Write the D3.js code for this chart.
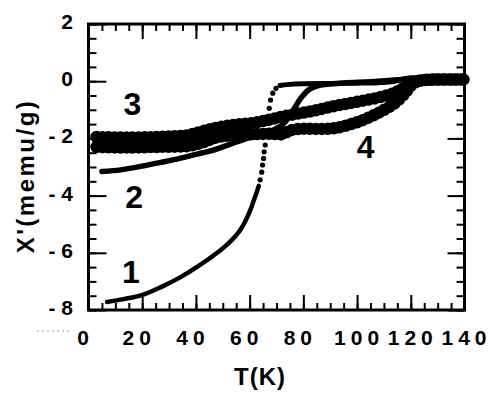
<!DOCTYPE html>
<html>
<head>
<meta charset="utf-8">
<script src="https://cdn.jsdelivr.net/npm/d3@7/dist/d3.min.js"></script>
<style>
  body { margin: 0; background: #fff; }
  svg { display: block; font-family: "Liberation Sans", Arial, Helvetica, sans-serif; font-weight: bold; }
</style>
</head>
<body>
<div id="chart"></div>
<script>
// --- DATOS ---
const tempTicks = [0, 20, 40, 60, 80, 100, 120, 140];
const chiTicks = [2, 0, -2, -4, -6, -8];

// curva 1: rama baja, salto (puntos sueltos) y rama alta
const curve1Low = [[6.9, -7.72], [13, -7.62], [19.9, -7.48], [27, -7.2], [34.1, -6.86], [40, -6.52],
  [45, -6.2], [49, -5.92], [52, -5.68], [54.5, -5.44], [56.5, -5.2], [58.2, -4.93], [59.6, -4.65],
  [60.8, -4.37], [61.8, -4.1], [62.7, -3.86], [63.4, -3.66]];
const curve1Jump = [[63.9, -3.45], [64.5, -3.18], [64.8, -2.93], [65.2, -2.7], [65.4, -2.47], [65.8, -2.23],
  [67.3, -0.95], [67.8, -0.66], [68.6, -0.42], [69.8, -0.25]];
const curve1High = [[71.3, -0.15], [74, -0.12], [80, -0.09], [90, -0.08], [100, -0.07], [108, -0.05],
  [114, 0.0], [118, 0.08], [122, 0.12], [130, 0.1], [136, 0.13], [140, 0.06]];

const curve2 = [[5, -3.16], [12, -3.1], [20, -2.97], [27, -2.84], [34, -2.7], [40, -2.56], [46.5, -2.41],
  [52.8, -2.2], [59, -2.0], [64, -1.85], [69, -1.7], [73, -1.45], [76, -1.05], [79, -0.6], [82, -0.3],
  [86, -0.14], [90, -0.1], [95, -0.06], [105, -0.02], [115, 0.05], [120, 0.1], [130, 0.08], [140, 0.08]];

const curve3 = [[3, -1.95], [15, -1.97], [25, -1.95], [36, -1.9], [42, -1.76], [48, -1.62], [55, -1.52],
  [62, -1.45], [68, -1.33], [73, -1.22], [77, -1.15], [84, -1.03], [90, -0.9], [100, -0.72], [108, -0.57],
  [114, -0.4], [118, -0.2], [121, -0.05], [125, 0.04], [132, 0.06], [140, 0.06]];

const curve4 = [[3, -2.3], [15, -2.32], [25, -2.3], [36, -2.28], [42, -2.16], [48, -1.96], [55, -1.88],
  [62, -1.85], [68, -1.84], [72, -1.86], [75, -1.72], [80, -1.66], [86, -1.67], [91, -1.65], [96, -1.55],
  [101, -1.4], [106, -1.2], [111, -0.95], [115, -0.7], [118, -0.4], [121, -0.08], [125, 0.04],
  [130, 0.06], [140, 0.06]];

const curveNames = ["1", "2", "3", "4"];
const labelT = [15.8, 17, 16.3, 103.2];
const labelChi = [-7.06, -4.43, -1.18, -2.69];

// --- CONFIGURACIÓN ---
const W = 491, H = 400;
const plot = { left: 88.5, right: 464.5, top: 24, bottom: 310 };

const svg = d3.select("#chart").append("svg")
  .attr("width", W)
  .attr("height", H);

const x = d3.scaleLinear().domain([0, 140]).range([plot.left, plot.right]);
const y = d3.scaleLinear().domain([2, -8]).range([plot.top, plot.bottom]);

const minorT = d3.range(0, 141, 5);
const minorChi = d3.range(2, -8.01, -0.5);

// ticks hacia dentro en los cuatro lados
function ticks(axis, transform) {
  const g = svg.append("g").attr("transform", transform).call(axis);
  g.select(".domain").remove();
  g.selectAll("line").attr("stroke", "#000").attr("stroke-width", 2);
  g.selectAll("text").remove();
}
ticks(d3.axisTop(x).tickValues(minorT).tickSize(7), `translate(0,${plot.bottom})`);
ticks(d3.axisTop(x).tickValues(tempTicks).tickSize(15), `translate(0,${plot.bottom})`);
ticks(d3.axisBottom(x).tickValues(minorT).tickSize(7), `translate(0,${plot.top})`);
ticks(d3.axisBottom(x).tickValues(tempTicks).tickSize(15), `translate(0,${plot.top})`);
ticks(d3.axisRight(y).tickValues(minorChi).tickSize(8), `translate(${plot.left},0)`);
ticks(d3.axisRight(y).tickValues(chiTicks).tickSize(18), `translate(${plot.left},0)`);
ticks(d3.axisLeft(y).tickValues(minorChi).tickSize(8), `translate(${plot.right},0)`);
ticks(d3.axisLeft(y).tickValues(chiTicks).tickSize(17), `translate(${plot.right},0)`);

// marco
svg.append("rect")
  .attr("x", plot.left).attr("y", plot.top)
  .attr("width", plot.right - plot.left).attr("height", plot.bottom - plot.top)
  .attr("fill", "none").attr("stroke", "#000").attr("stroke-width", 3);

// etiquetas de ejes
svg.selectAll(".xlab").data(tempTicks).join("text")
  .attr("class", "xlab")
  .attr("x", d => x(d) + (String(d).length === 3 ? 2 : -3))
  .attr("y", 345)
  .attr("text-anchor", "middle")
  .style("font-size", "21px")
  .style("letter-spacing", "5px")
  .text(d => d);

svg.selectAll(".ylab").data(chiTicks).join("text")
  .attr("class", "ylab")
  .attr("x", 73)
  .attr("y", d => y(d) + 5)
  .attr("text-anchor", "end")
  .style("font-size", "21px")
  .text(d => d < 0 ? "- " + (-d) : d);

svg.append("text")
  .attr("x", 260).attr("y", 385)
  .attr("text-anchor", "middle")
  .style("font-size", "24px")
  .style("letter-spacing", "1px")
  .text("T(K)");

svg.append("text")
  .attr("transform", "translate(34,176) rotate(-90)")
  .attr("text-anchor", "middle")
  .style("font-size", "24px")
  .style("letter-spacing", "2.5px")
  .text("X'(memu/g)");

// línea fina punteada (marca del original, abajo a la izquierda)
svg.append("line")
  .attr("x1", 37).attr("x2", 72).attr("y1", 331).attr("y2", 331)
  .attr("stroke", "#999").attr("stroke-width", 1).attr("stroke-dasharray", "2,3");

// --- CURVAS ---
const line = d3.line()
  .x(d => x(d[0]))
  .y(d => y(d[1]))
  .curve(d3.curveMonotoneX);

function solid(data, w) {
  svg.append("path").datum(data)
    .attr("fill", "none").attr("stroke", "#000")
    .attr("stroke-width", w).attr("stroke-linecap", "round").attr("stroke-linejoin", "round")
    .attr("d", line);
}

// bandas gruesas de puntos: trazo sólido + puntos redondos en el borde
function band(data, w) {
  solid(data, w);
  svg.append("path").datum(data)
    .attr("fill", "none").attr("stroke", "#000")
    .attr("stroke-width", w + 2.5).attr("stroke-linecap", "round")
    .attr("stroke-dasharray", "0,6")
    .attr("d", line);
}

band(curve4, 10);
band(curve3, 10);
solid(curve2, 5.5);
solid(curve1Low, 4.5);
solid(curve1High, 5);

svg.selectAll(".jump").data(curve1Jump).join("circle")
  .attr("class", "jump")
  .attr("cx", d => x(d[0]))
  .attr("cy", d => y(d[1]))
  .attr("r", 2.6)
  .attr("fill", "#000");

// números de curva
svg.selectAll(".cname").data(curveNames).join("text")
  .attr("class", "cname")
  .attr("x", (d, i) => x(labelT[i]))
  .attr("y", (d, i) => y(labelChi[i]))
  .attr("text-anchor", "middle")
  .style("font-size", "32px")
  .text(d => d);
</script>
</body>
</html>
